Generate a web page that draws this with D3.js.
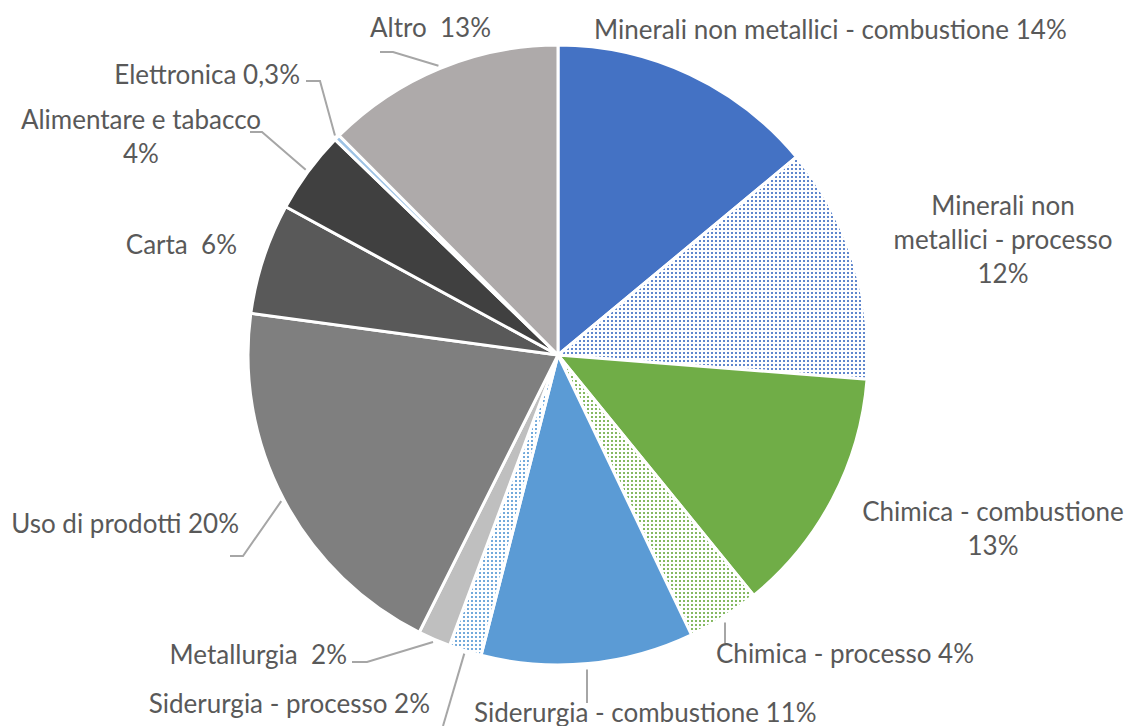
<!DOCTYPE html>
<html>
<head>
<meta charset="utf-8">
<script src="https://cdn.jsdelivr.net/npm/d3@7"></script>
<style>
  html, body { margin: 0; padding: 0; background: #fff; }
  svg { display: block; }
  text { font-family: Lato, "Open Sans", sans-serif; fill: #595959; white-space: pre; }
</style>
</head>
<body>
<svg id="chart" width="1125" height="726"></svg>
<script>
// ---- data ----
const categories = [
  "Minerali non metallici - combustione",
  "Minerali non metallici - processo",
  "Chimica - combustione",
  "Chimica - processo",
  "Siderurgia - combustione",
  "Siderurgia - processo",
  "Metallurgia",
  "Uso di prodotti",
  "Carta",
  "Alimentare e tabacco",
  "Elettronica",
  "Altro"
];
const values = [14.0, 12.3, 12.9, 3.8, 11.1, 1.7, 1.7, 19.8, 5.8, 4.3, 0.3, 12.5];
const percentLabels = ["14%", "12%", "13%", "4%", "11%", "2%", "2%", "20%", "6%", "4%", "0,3%", "13%"];
// label text lines (as shown in the chart)
const labelLines = [
  ["Minerali non metallici - combustione 14%"],
  ["Minerali non", "metallici - processo", "12%"],
  ["Chimica - combustione", "13%"],
  ["Chimica - processo 4%"],
  ["Siderurgia - combustione 11%"],
  ["Siderurgia - processo 2%"],
  ["Metallurgia  2%"],
  ["Uso di prodotti 20%"],
  ["Carta  6%"],
  ["Alimentare e tabacco", "4%"],
  ["Elettronica 0,3%"],
  ["Altro  13%"]
];

// ---- styles / layout ----
const baseColors = ["#4472C4", "#4472C4", "#70AD47", "#70AD47", "#5B9BD5", "#5B9BD5",
                    "#BFBFBF", "#7F7F7F", "#595959", "#404040", "#9DC3E6", "#AEAAAA"];
const patterned = [false, true, false, true, false, true, false, false, false, false, false, false];

// label layout: x, y (first baseline), anchor, leader elbow points (null = no leader)
const labelLayout = [
  { x: 594, y: 39, anchor: "start", leader: null },
  { x: 1003, y: 215, anchor: "middle", leader: null },
  { x: 993, y: 521, anchor: "middle", leader: null },
  { x: 716, y: 663, anchor: "start", leader: [[725, 643]], vertical: true },
  { x: 474, y: 722, anchor: "start", leader: [[587, 703]], vertical: true },
  { x: 430, y: 713, anchor: "end", leader: [[443, 726]] },
  { x: 347, y: 664, anchor: "end", leader: [[367, 662], [352, 662]] },
  { x: 239, y: 533, anchor: "end", leader: [[243, 556], [230, 556]] },
  { x: 237, y: 254, anchor: "end", leader: null },
  { x: 141, y: 129, anchor: "middle", leader: [[262, 132], [250, 132]] },
  { x: 300, y: 84, anchor: "end", leader: [[320, 81], [306, 81]] },
  { x: 491, y: 37, anchor: "end", leader: [[393, 52], [380, 52]] }
];
const lineHeight = 34;
const fontSize = 26;

const cx = 558, cy = 355, radius = 310;

const svg = d3.select("#chart");
const defs = svg.append("defs");

// dotted patterns
baseColors.forEach((c, i) => {
  if (!patterned[i]) return;
  const p = defs.append("pattern")
    .attr("id", "pat" + i)
    .attr("patternUnits", "userSpaceOnUse")
    .attr("width", 4).attr("height", 4);
  p.append("rect").attr("width", 4).attr("height", 4).attr("fill", "#fff");
  p.append("rect").attr("x", 1).attr("y", 1).attr("width", 2).attr("height", 2)
    .attr("fill", c).attr("fill-opacity", 0.85);
});

const data = categories.map((c, i) => ({ name: c, value: values[i], idx: i }));
const pie = d3.pie().sort(null).value(d => d.value).startAngle(0).endAngle(2 * Math.PI);
const arcs = pie(data);

const arc = d3.arc().innerRadius(0).outerRadius(radius);

const g = svg.append("g").attr("transform", `translate(${cx},${cy})`);

g.selectAll("path.slice")
  .data(arcs)
  .join("path")
  .attr("class", "slice")
  .attr("d", arc)
  .attr("fill", d => patterned[d.data.idx] ? `url(#pat${d.data.idx})` : baseColors[d.data.idx])
  .attr("stroke", "#fff")
  .attr("stroke-width", 3)
  .attr("stroke-linejoin", "round");

// leader lines
const leaderG = svg.append("g");
arcs.forEach(d => {
  const L = labelLayout[d.data.idx];
  if (!L.leader) return;
  const mid = (d.startAngle + d.endAngle) / 2;
  const r0 = radius + 3;
  let start = [cx + r0 * Math.sin(mid), cy - r0 * Math.cos(mid)];
  if (L.vertical) start = [L.leader[0][0], start[1] + 3];
  const pts = [start].concat(L.leader);
  leaderG.append("path")
    .attr("d", d3.line()(pts))
    .attr("fill", "none")
    .attr("stroke", "#A6A6A6")
    .attr("stroke-width", 2);
});

// labels
const labelG = svg.append("g");
arcs.forEach(d => {
  const i = d.data.idx;
  const L = labelLayout[i];
  const t = labelG.append("text")
    .attr("x", L.x).attr("y", L.y)
    .attr("text-anchor", L.anchor)
    .attr("font-size", fontSize);
  labelLines[i].forEach((line, k) => {
    t.append("tspan").attr("x", L.x).attr("y", L.y + k * lineHeight).text(line);
  });
});
</script>
</body>
</html>
